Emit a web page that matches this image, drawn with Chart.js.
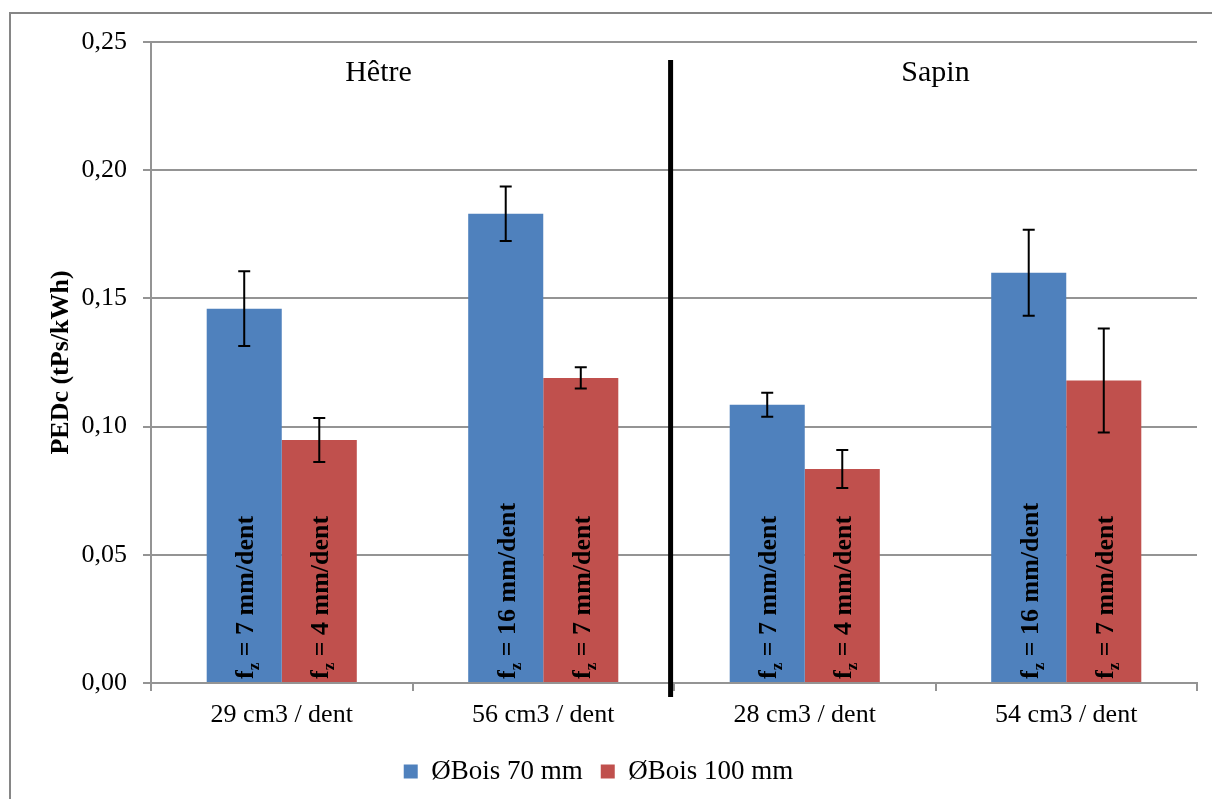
<!DOCTYPE html>
<html lang="fr">
<head>
  <meta charset="UTF-8">
  <title>PEDc Hêtre / Sapin</title>
  <script src="https://cdn.jsdelivr.net/npm/chart.js"></script>
  <style>
    html, body { margin: 0; padding: 0; background: #fff; }
    #wrap { width: 1212px; height: 799px; }
  </style>
</head>
<body>
  <div id="wrap"><canvas id="pedc-chart" width="1212" height="799"></canvas></div>

  <script>
    // data
    const categories = ['29 cm3 / dent', '56 cm3 / dent', '28 cm3 / dent', '54 cm3 / dent'];
    const seriesNames = ['ØBois 70 mm', 'ØBois 100 mm'];
    const bois70 = [0.146, 0.183, 0.1085, 0.160];
    const bois100 = [0.0948, 0.119, 0.0835, 0.118];
    const err70 = [0.0146, 0.0106, 0.0047, 0.0168];
    const err100 = [0.0086, 0.0041, 0.0074, 0.0203];
    const fz70 = ['7', '16', '7', '16'];
    const fz100 = ['4', '7', '4', '7'];
    const groupNames = ['Hêtre', 'Sapin'];
    const yTicks = [0, 0.05, 0.10, 0.15, 0.20, 0.25];

    const SERIF = '"Liberation Serif", "Times New Roman", serif';
    const gridGray = '#949494';

    // error bars, rotated f_z labels, divider and group names
    const extras = {
      id: 'extras',
      beforeDraw(chart) {
        const ctx = chart.ctx;
        ctx.save();
        ctx.strokeStyle = '#868686';
        ctx.lineWidth = 2;
        ctx.beginPath();
        ctx.moveTo(10, 800);
        ctx.lineTo(10, 13);
        ctx.lineTo(1212, 13);
        ctx.stroke();
        ctx.restore();
      },
      afterDatasetsDraw(chart) {
        const ctx = chart.ctx;
        const y = chart.scales.y;
        const errs = [err70, err100];
        const labels = [fz70, fz100];
        chart.data.datasets.forEach((ds, di) => {
          const meta = chart.getDatasetMeta(di);
          meta.data.forEach((bar, i) => {
            // label inside the bar, written upwards
            ctx.save();
            ctx.translate(bar.x, bar.base - 3);
            ctx.rotate(-Math.PI / 2);
            ctx.fillStyle = '#000';
            ctx.textBaseline = 'alphabetic';
            ctx.textAlign = 'left';
            ctx.font = 'bold 26px ' + SERIF;
            let tx = 0;
            ctx.fillText('f', tx, 9);
            tx += ctx.measureText('f').width;
            ctx.font = 'bold 17px ' + SERIF;
            ctx.fillText('z', tx, 15);
            tx += ctx.measureText('z').width;
            ctx.font = 'bold 26px ' + SERIF;
            ctx.fillText(' = ' + labels[di][i] + ' mm/dent', tx, 9);
            ctx.restore();

            // error bar
            const v = ds.data[i];
            const e = errs[di][i];
            const yTop = y.getPixelForValue(v + e);
            const yBot = y.getPixelForValue(v - e);
            ctx.save();
            ctx.strokeStyle = '#000';
            ctx.lineWidth = 2;
            ctx.beginPath();
            ctx.moveTo(bar.x, yTop);
            ctx.lineTo(bar.x, yBot);
            ctx.moveTo(bar.x - 6, yTop);
            ctx.lineTo(bar.x + 6, yTop);
            ctx.moveTo(bar.x - 6, yBot);
            ctx.lineTo(bar.x + 6, yBot);
            ctx.stroke();
            ctx.restore();
          });
        });
      },
      afterDraw(chart) {
        const ctx = chart.ctx;
        const x = chart.scales.x;
        const y = chart.scales.y;
        const area = chart.chartArea;
        ctx.save();
        // thick separator between the two wood species
        const xd = x.getPixelForValue(1.487);
        ctx.strokeStyle = '#000';
        ctx.lineWidth = 5;
        ctx.beginPath();
        ctx.moveTo(xd, area.top + 18);
        ctx.lineTo(xd, area.bottom + 14);
        ctx.stroke();

        ctx.fillStyle = '#000';
        ctx.font = '30px ' + SERIF;
        ctx.textAlign = 'center';
        ctx.textBaseline = 'middle';
        ctx.fillText(groupNames[0], x.getPixelForValue(0.37), y.getPixelForValue(0.238));
        ctx.fillText(groupNames[1], x.getPixelForValue(2.5), y.getPixelForValue(0.238));
        ctx.restore();
      }
    };

    const ctx = document.getElementById('pedc-chart').getContext('2d');
    new Chart(ctx, {
      type: 'bar',
      data: {
        labels: categories,
        datasets: [
          { label: seriesNames[0], data: bois70, backgroundColor: '#4F81BD', borderWidth: 0 },
          { label: seriesNames[1], data: bois100, backgroundColor: '#C0504D', borderWidth: 0 }
        ]
      },
      options: {
        responsive: false,
        animation: false,
        devicePixelRatio: 1,
        categoryPercentage: 0.574,
        barPercentage: 1,
        layout: { padding: { top: 42, right: 15, bottom: 4, left: 0 } },
        scales: {
          x: {
            grid: { drawOnChartArea: false, drawTicks: true, tickLength: 8, color: gridGray, lineWidth: 2, offset: true },
            border: { color: gridGray, width: 2 },
            ticks: { color: '#000', font: { family: SERIF, size: 26 }, padding: 9, maxRotation: 0 },
            afterFit: s => { s.height = 57; }
          },
          y: {
            min: 0,
            max: 0.25,
            afterBuildTicks: s => { s.ticks = yTicks.map(v => ({ value: v })); },
            grid: { color: gridGray, lineWidth: 2, tickLength: 8 },
            border: { color: gridGray, width: 2 },
            ticks: {
              color: '#000',
              font: { family: SERIF, size: 26 },
              padding: 16,
              callback: v => Number(v).toFixed(2).replace('.', ',')
            },
            title: {
              display: true,
              text: 'PEDc (tPs/kWh)',
              color: '#000',
              font: { family: SERIF, size: 26, weight: 'bold' },
              padding: { top: 46, bottom: 0 }
            },
            afterFit: s => { s.width = 151; }
          }
        },
        plugins: {
          legend: {
            position: 'bottom',
            labels: {
              color: '#000',
              font: { family: SERIF, size: 27 },
              boxWidth: 14,
              boxHeight: 14,
              padding: 18
            }
          },
          tooltip: { enabled: false }
        }
      },
      plugins: [extras]
    });
  </script>
</body>
</html>
